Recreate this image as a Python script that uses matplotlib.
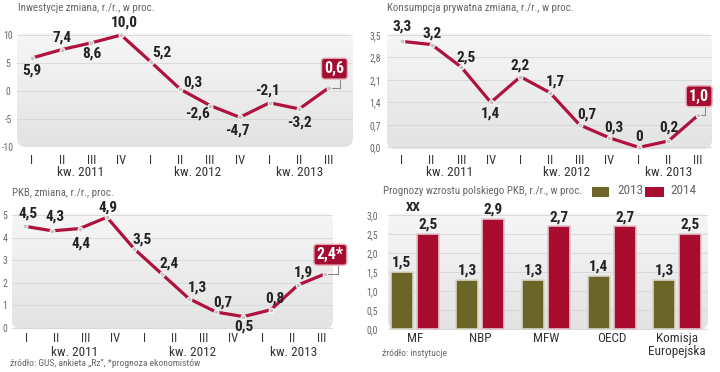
import numpy as np
import matplotlib.pyplot as plt
from matplotlib.patches import FancyBboxPatch, Rectangle
from matplotlib.colors import LinearSegmentedColormap

plt.rcParams['font.family'] = ['Roboto Condensed', 'Liberation Sans', 'DejaVu Sans']

quarters = ['I', 'II', 'III', 'IV', 'I', 'II', 'III', 'IV', 'I', 'II', 'III']
years = ['kw. 2011', 'kw. 2012', 'kw. 2013']

inwestycje = [5.9, 7.4, 8.6, 10.0, 5.2, 0.3, -2.6, -4.7, -2.1, -3.2, 0.6]
konsumpcja = [3.3, 3.2, 2.5, 1.4, 2.2, 1.7, 0.7, 0.3, 0.0, 0.2, 1.0]
pkb = [4.5, 4.3, 4.4, 4.9, 3.5, 2.4, 1.3, 0.7, 0.5, 0.8, 1.9, 2.4]

instytucje = ['MF', 'NBP', 'MFW', 'OECD', 'Komisja\nEuropejska']
prognoza_2013 = [1.5, 1.3, 1.3, 1.4, 1.3]
prognoza_2014 = [2.5, 2.9, 2.7, 2.7, 2.5]

# label offsets in pixels (dx, dy), screen up = positive
inw_off = [(0, -13), (0, 12), (0, -11), (3, 12), (11, 9), (12, 7),
           (-13, -8), (-2, -13), (-2, 12), (0, -14)]
kons_off = [(0, 15), (1, 11), (5, 10), (0, -11), (0, 11), (5, 11),
            (7, 10), (5, 10), (0, 10), (0, 13)]
pkb_off = [(3, 13), (3, 14), (1, -15), (1, 10), (8, 9), (8, 10),
           (9, 11), (7, 10), (0, -10), (4, 11), (5, 12)]

RED = '#b0123e'
BOX = '#a50d30'
OLIVE = '#6b6527'
BAR_RED = '#a80d2f'
GRAY = '#666666'

W, H = 720, 372
PT = 0.72  # points per pixel

fig = plt.figure(figsize=(7.2, 3.72), dpi=100)


def add_ax(x0, y0, x1, y1):
    return fig.add_axes([x0 / W, 1 - y1 / H, (x1 - x0) / W, (y1 - y0) / H])


def fmt(v):
    if v == 0:
        return '0'
    return f'{v:.1f}'.replace('.', ',')


def draw_bg(ax, wpx, hpx):
    grad = np.linspace(0, 1, 100).reshape(-1, 1)
    cmap = LinearSegmentedColormap.from_list('bg', ['#e3e3e3', '#f6f6f6'])
    im = ax.imshow(grad, extent=(0, 1, 0, 1), transform=ax.transAxes, cmap=cmap,
                   origin='lower', aspect='auto', zorder=0)
    patch = FancyBboxPatch((0, 0), 1, 1, boxstyle='round,pad=0,rounding_size=%f' % (9 / wpx),
                           mutation_aspect=wpx / hpx, transform=ax.transAxes,
                           fc='none', ec='none')
    ax.add_patch(patch)
    im.set_clip_path(patch)


def style_ax(ax, xlim, ylim, yticks, ylabels, ypad, xpad):
    for s in ax.spines.values():
        s.set_visible(False)
    for y in yticks:
        ax.axhline(y, color='#d6d6d6', lw=0.6, zorder=1)
    ax.set_yticks(yticks)
    ax.set_yticklabels(ylabels, fontsize=7, color=GRAY, ha='center')
    ax.tick_params(axis='y', length=0, pad=ypad * PT)
    ax.tick_params(axis='x', length=0, pad=xpad * PT)
    ax.set_xlim(*xlim)
    ax.set_ylim(*ylim)


def line_panel(rect, values, xlim, ylim, yticks, ylabels, ypad, xpad,
               offsets, box_text, box_off, tick_pos, kw_pos, kw_dy):
    ax = add_ax(*rect)
    draw_bg(ax, rect[2] - rect[0], rect[3] - rect[1])
    xs = np.arange(len(values))
    ax.plot(xs, values, color=RED, lw=2.3, zorder=3, solid_joinstyle='round')
    ax.plot(xs, values, 'o', ms=3.5, mfc='#c4c4c4', mec='white', mew=0.7, zorder=4)
    for i, (v, (dx, dy)) in enumerate(zip(values[:-1], offsets)):
        ax.annotate(fmt(v), (xs[i], v), xytext=(dx * PT, dy * PT), textcoords='offset points',
                    ha='center', va='center', fontsize=11, fontweight='bold',
                    color='#222222', zorder=5)
    ax.annotate(box_text, (xs[-1], values[-1]), xytext=(box_off[0] * PT, box_off[1] * PT),
                textcoords='offset points', ha='center', va='center', fontsize=11.5,
                fontweight='bold', color='white', zorder=6,
                bbox=dict(boxstyle='round,pad=0.18,rounding_size=0.2', fc=BOX,
                          ec='#e6a9b5', lw=1),
                arrowprops=dict(arrowstyle='-', color='#8a8a8a', lw=0.8, relpos=(0.8, 0),
                                connectionstyle='angle,angleA=90,angleB=0,rad=0',
                                shrinkA=0, shrinkB=2))
    ax.set_xticks(tick_pos)
    ax.set_xticklabels(quarters, fontsize=9, color='#333333')
    style_ax(ax, xlim, ylim, yticks, ylabels, ypad, xpad)
    for x, y in zip(kw_pos, years):
        ax.annotate(y, (x, 0), xycoords=ax.get_xaxis_transform(), xytext=(0, -kw_dy * PT),
                    textcoords='offset points', ha='center', va='center',
                    fontsize=9.5, color='#333333')
    return ax


# Inwestycje
line_panel((17, 33, 353, 147), inwestycje, (-0.505, 10.81), (-10, 10.36),
           [-10, -5, 0, 5, 10], ['-10', '-5', '0', '5', '10'], 9, 7,
           inw_off, fmt(inwestycje[-1]), (5.5, 19), np.arange(11),
           [1.65, 5.58, 9.0], 26)
fig.text(18 / W, 1 - 8 / H, 'Inwestycje zmiana, r./r., w proc.', fontsize=7.8,
         color=GRAY, va='center')

# Konsumpcja
kons_ticks = [0, 0.7, 1.4, 2.1, 2.8, 3.5]
line_panel((387, 33, 712, 149), konsumpcja, (-0.507, 10.47), (-0.05, 3.56),
           kons_ticks, [f'{t:.1f}'.replace('.', ',') for t in kons_ticks], 12, 5.5,
           kons_off, fmt(konsumpcja[-1]), (1, 19), np.arange(11),
           [1.62, 5.57, 9.0], 24)
fig.text(387 / W, 1 - 8 / H, 'Konsumpcja prywatna zmiana, r./r., w proc.', fontsize=7.8,
         color=GRAY, va='center')

# PKB
line_panel((12, 213, 333, 329), pkb, (-0.476, 11.28), (-0.05, 5.09),
           [0, 1, 2, 3, 4, 5], ['0', '1', '2', '3', '4', '5'], 7, 3.5,
           pkb_off, fmt(pkb[-1]) + '*', (5, 19), np.linspace(0.07, 10.88, 11),
           [1.83, 6.15, 9.82], 23)
fig.text(12 / W, 1 - 193 / H, 'PKB, zmiana, r./r., proc.', fontsize=7.8,
         color=GRAY, va='center')
fig.text(10 / W, 1 - 363 / H, 'źródło: GUS, ankieta „Rz”, *prognoza ekonomistów',
         fontsize=6.8, color=GRAY, va='center')

# Prognozy
rect = (388, 213, 708, 330)
ax = add_ax(*rect)
draw_bg(ax, rect[2] - rect[0], rect[3] - rect[1])
x = np.arange(len(instytucje))
bw = 0.336
b1 = ax.bar(x - 0.198, prognoza_2013, bw, color=OLIVE, edgecolor='#d8d6c6', lw=1.2, zorder=3)
b2 = ax.bar(x + 0.198, prognoza_2014, bw, color=BAR_RED, edgecolor='#e2c8cc', lw=1.2, zorder=3)
for bars in (b1, b2):
    for r in bars:
        ax.annotate(fmt(r.get_height()), (r.get_x() + r.get_width() / 2, r.get_height()),
                    xytext=(0, 1.5), textcoords='offset points', ha='center', va='bottom',
                    fontsize=11, fontweight='bold', color='#222222', zorder=5)
bar_ticks = [0, 0.5, 1.0, 1.5, 2.0, 2.5, 3.0]
ax.set_xticks(x)
ax.set_xticklabels(instytucje, fontsize=9.5, color='#333333', linespacing=0.95)
style_ax(ax, (-0.41, 4.47), (-0.026, 3.05), bar_ticks,
         [f'{t:.1f}'.replace('.', ',') for t in bar_ticks], 16, 2)
ax.annotate('XX', (0, 3.0), xytext=(-1, 5), textcoords='offset points', ha='center',
            va='center', fontsize=9.5, fontweight='bold', color='#222222')

fig.text(383 / W, 1 - 191 / H, 'Prognozy wzrostu polskiego PKB, r./r., w proc.',
         fontsize=7.8, color=GRAY, va='center')
fig.add_artist(Rectangle((592 / W, 1 - 197 / H), 17 / W, 10 / H, transform=fig.transFigure,
                         fc=OLIVE, ec='none'))
fig.text(617 / W, 1 - 191 / H, '2013', fontsize=9.5, color=GRAY, va='center')
fig.add_artist(Rectangle((645 / W, 1 - 197 / H), 19 / W, 10 / H, transform=fig.transFigure,
                         fc=BAR_RED, ec='none'))
fig.text(670 / W, 1 - 191 / H, '2014', fontsize=9.5, color=GRAY, va='center')
fig.text(382 / W, 1 - 353 / H, 'źródło: instytucje', fontsize=6.8, color=GRAY, va='center')

fig.savefig('out.png', dpi=100)
